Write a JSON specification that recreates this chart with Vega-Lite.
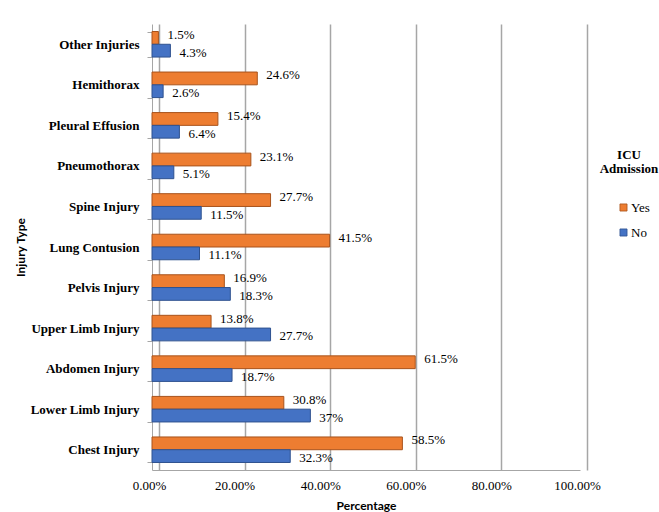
{
  "$schema": "https://vega.github.io/schema/vega-lite/v6.json",
  "autosize": {"type": "none"},
  "width": 428,
  "height": 446,
  "padding": {"left": 152, "top": 24, "right": 79, "bottom": 42},
  "background": "white",
  "config": {"view": {"stroke": null}, "font": "Liberation Serif"},
  "data": {
    "values": [
      {"injury": "Other Injuries", "icu": "Yes", "pct": 0.015},
      {"injury": "Other Injuries", "icu": "No", "pct": 0.043},
      {"injury": "Hemithorax", "icu": "Yes", "pct": 0.246},
      {"injury": "Hemithorax", "icu": "No", "pct": 0.026},
      {"injury": "Pleural Effusion", "icu": "Yes", "pct": 0.154},
      {"injury": "Pleural Effusion", "icu": "No", "pct": 0.064},
      {"injury": "Pneumothorax", "icu": "Yes", "pct": 0.231},
      {"injury": "Pneumothorax", "icu": "No", "pct": 0.051},
      {"injury": "Spine Injury", "icu": "Yes", "pct": 0.277},
      {"injury": "Spine Injury", "icu": "No", "pct": 0.115},
      {"injury": "Lung Contusion", "icu": "Yes", "pct": 0.415},
      {"injury": "Lung Contusion", "icu": "No", "pct": 0.111},
      {"injury": "Pelvis Injury", "icu": "Yes", "pct": 0.169},
      {"injury": "Pelvis Injury", "icu": "No", "pct": 0.183},
      {"injury": "Upper Limb Injury", "icu": "Yes", "pct": 0.138},
      {"injury": "Upper Limb Injury", "icu": "No", "pct": 0.277},
      {"injury": "Abdomen Injury", "icu": "Yes", "pct": 0.615},
      {"injury": "Abdomen Injury", "icu": "No", "pct": 0.187},
      {"injury": "Lower Limb Injury", "icu": "Yes", "pct": 0.308},
      {"injury": "Lower Limb Injury", "icu": "No", "pct": 0.37},
      {"injury": "Chest Injury", "icu": "Yes", "pct": 0.585},
      {"injury": "Chest Injury", "icu": "No", "pct": 0.323}
    ]
  },
  "encoding": {
    "y": {
      "field": "injury",
      "type": "nominal",
      "sort": ["Other Injuries", "Hemithorax", "Pleural Effusion", "Pneumothorax", "Spine Injury", "Lung Contusion", "Pelvis Injury", "Upper Limb Injury", "Abdomen Injury", "Lower Limb Injury", "Chest Injury"],
      "scale": {"paddingInner": 0.37, "paddingOuter": 0.185},
      "axis": {
        "title": "Injury Type",
        "titleFont": "Lato",
        "titleFontSize": 12,
        "titleFontWeight": "bold",
        "titleColor": "black",
        "titlePadding": 2,
        "labelFont": "Liberation Serif",
        "labelFontSize": 13,
        "labelFontWeight": "bold",
        "labelColor": "black",
        "labelPadding": 8,
        "tickBand": "extent",
        "tickSize": 5,
        "tickColor": "#A6A6A6",
        "domainColor": "#A6A6A6",
        "grid": false
      }
    },
    "yOffset": {"field": "icu", "sort": ["Yes", "No"]},
    "x": {
      "field": "pct",
      "type": "quantitative",
      "scale": {"domain": [0, 1], "nice": false},
      "axis": {
        "title": "Percentage",
        "titleFont": "Lato",
        "titleFontSize": 12,
        "titleFontWeight": "bold",
        "titleColor": "black",
        "titlePadding": 8,
        "values": [0, 0.2, 0.4, 0.6, 0.8, 1],
        "format": ".2%",
        "labelFont": "Liberation Serif",
        "labelFontSize": 13,
        "labelColor": "black",
        "labelPadding": 9,
        "labelFlush": false,
        "grid": true,
        "gridColor": "#A6A6A6",
        "gridWidth": 1.5,
        "tickOffset": 7,
        "labelOffset": -10,
        "tickSize": 0,
        "domainColor": "#A6A6A6"
      }
    }
  },
  "layer": [
    {
      "mark": {"type": "bar", "strokeWidth": 1},
      "encoding": {
        "color": {
          "field": "icu",
          "type": "nominal",
          "sort": ["Yes", "No"],
          "scale": {"domain": ["Yes", "No"], "range": ["#ED7D31", "#4472C4"]},
          "legend": {
            "orient": "none",
            "legendX": 448,
            "legendY": 125,
            "title": ["ICU", "Admission"],
            "titleFont": "Liberation Serif",
            "titleFontSize": 13,
            "titleFontWeight": "bold",
            "titleColor": "black",
            "titleAnchor": "middle",
            "titleAlign": "center",
            "titleLineHeight": 14,
            "titlePadding": 25,
            "symbolType": "square",
            "symbolSize": 50,
            "symbolStrokeColor": "#444",
            "symbolStrokeWidth": 0.8,
            "symbolOffset": 9,
            "labelFont": "Liberation Serif",
            "labelFontSize": 13,
            "labelColor": "black",
            "labelOffset": 1,
            "rowPadding": 11
          }
        },
        "stroke": {
          "field": "icu",
          "type": "nominal",
          "scale": {"domain": ["Yes", "No"], "range": ["#A8531C", "#2F528F"]},
          "legend": null
        }
      }
    },
    {
      "transform": [{"filter": "datum.icu == 'Yes'"}],
      "mark": {"type": "text", "align": "left", "baseline": "middle", "dx": 9, "dy": -3, "fontSize": 13, "font": "Liberation Serif", "color": "black"},
      "encoding": {"text": {"field": "pct", "type": "quantitative", "format": ".3~%"}}
    },
    {
      "transform": [{"filter": "datum.icu == 'No'"}],
      "mark": {"type": "text", "align": "left", "baseline": "middle", "dx": 9, "dy": 2, "fontSize": 13, "font": "Liberation Serif", "color": "black"},
      "encoding": {"text": {"field": "pct", "type": "quantitative", "format": ".3~%"}}
    }
  ]
}
